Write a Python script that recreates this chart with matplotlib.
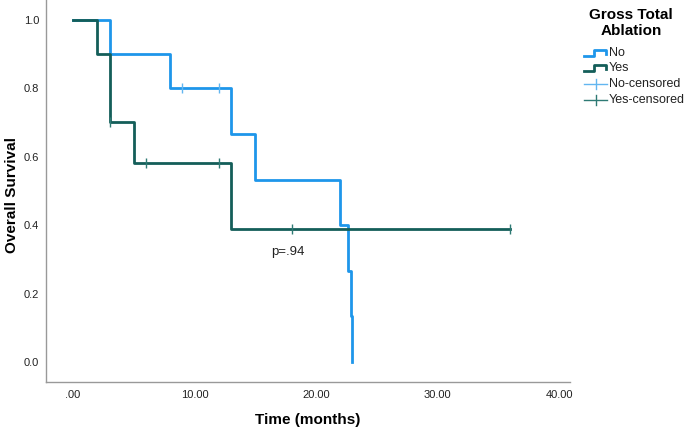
import matplotlib
matplotlib.use("Agg")
import matplotlib.pyplot as plt
from matplotlib.lines import Line2D

plt.rcParams['font.family'] = ['Liberation Sans', 'DejaVu Sans']

# Data
no_times = [0, 3, 8, 13, 15, 22, 22.65, 22.85, 22.95]
no_surv = [1.0, 0.9, 0.8, 0.667, 0.533, 0.4, 0.267, 0.133, 0.0]
no_cens_t = [9, 12]
no_cens_s = [0.8, 0.8]

yes_times = [0, 2, 3, 5, 13, 36]
yes_surv = [1.0, 0.9, 0.7, 0.583, 0.389, 0.389]
yes_cens_t = [3, 6, 12, 18, 36]
yes_cens_s = [0.7, 0.583, 0.583, 0.389, 0.389]

xticks = [0, 10, 20, 30, 40]
xticklabels = ['.00', '10.00', '20.00', '30.00', '40.00']
yticks = [0.0, 0.2, 0.4, 0.6, 0.8, 1.0]
yticklabels = ['0.0', '0.2', '0.4', '0.6', '0.8', '1.0']

legend_labels = ['No', 'Yes', 'No-censored', 'Yes-censored']
legend_title = 'Gross Total\nAblation'
p_text = 'p=.94'

BLUE = '#1E96EA'
TEAL = '#145E59'
BLUE_C = '#62B6F0'
TEAL_C = '#2E7A74'

fig = plt.figure(figsize=(6.85, 4.30), dpi=100)
W, H = 685, 430
ax = fig.add_axes([46 / W, 1 - 382 / H, (570 - 46) / W, 382 / H])

ax.step(no_times, no_surv, where='post', color=BLUE, lw=2.0, zorder=3)
ax.step(yes_times, yes_surv, where='post', color=TEAL, lw=2.0, zorder=4)
ax.plot(no_cens_t, no_cens_s, ls='none', marker='|', ms=7, mew=1.0, color=BLUE_C, zorder=5)
ax.plot(yes_cens_t, yes_cens_s, ls='none', marker='|', ms=7, mew=1.0, color=TEAL_C, zorder=5)

ax.set_xlim(-2.23, 40.9)
ax.set_ylim(-0.0585, 1.058)
ax.set_xticks(xticks)
ax.set_xticklabels(xticklabels)
ax.set_yticks(yticks)
ax.set_yticklabels(yticklabels)
ax.tick_params(length=0, labelsize=8, colors='#222222', pad=5)
ax.tick_params(axis='x', pad=6)
for s in ['top', 'right']:
    ax.spines[s].set_visible(False)
for s in ['left', 'bottom']:
    ax.spines[s].set_color('#999999')
    ax.spines[s].set_linewidth(1.0)

ax.text(17.7, 0.32, p_text, fontsize=9.5, ha='center', va='center', color='#222222')

fig.text(308 / W, 1 - 420 / H, 'Time (months)', fontsize=11, fontweight='bold',
         ha='center', va='center')
fig.text(12 / W, 1 - 195 / H, 'Overall Survival', fontsize=11, fontweight='bold',
         ha='center', va='center', rotation=90)

# Legend drawn manually
fig.text(631 / W, 1 - 23 / H, legend_title, fontsize=11, fontweight='bold',
         ha='center', va='center', linespacing=1.15)

rows_y = [53, 68, 84, 100]
colors_line = [BLUE, TEAL]
for i in range(2):
    y = rows_y[i]
    xs = [584, 594, 594, 606, 606]
    ys = [y + 3, y + 3, y - 3, y - 3, y + 1]
    fx = [a / W for a in xs]
    fy = [1 - b / H for b in ys]
    fig.add_artist(Line2D(fx, fy, color=colors_line[i], lw=2.0, transform=fig.transFigure))
colors_c = [BLUE_C, TEAL_C]
for i in range(2):
    y = rows_y[2 + i]
    fig.add_artist(Line2D([584 / W, 607 / W], [1 - y / H, 1 - y / H], color=colors_c[i],
                          lw=1.0, transform=fig.transFigure))
    fig.add_artist(Line2D([595.5 / W, 595.5 / W], [1 - (y - 5) / H, 1 - (y + 5) / H],
                          color=colors_c[i], lw=1.0, transform=fig.transFigure))
for i, lab in enumerate(legend_labels):
    fig.text(609 / W, 1 - rows_y[i] / H, lab, fontsize=9, ha='left', va='center',
             color='#222222')

fig.savefig('out.png', dpi=100)
